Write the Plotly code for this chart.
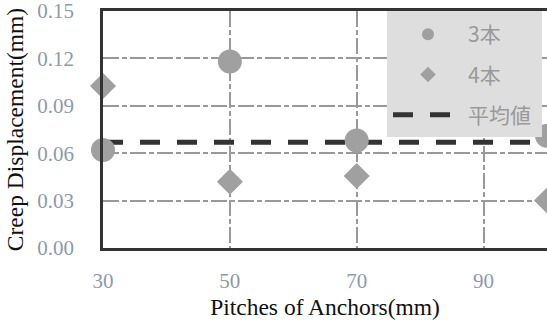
import plotly.graph_objects as go

pitch = [30, 50, 70, 100]
disp_3 = [0.062, 0.118, 0.068, 0.071]
disp_4 = [0.1025, 0.042, 0.0456, 0.030]
mean_x = [30, 100]
mean_val = [0.067, 0.067]
x_ticks = [30, 50, 70, 90]
y_ticks = [0.00, 0.03, 0.06, 0.09, 0.12, 0.15]

W, H = 547, 320
L, R, T, B = 103, 0, 11, 72

fig = go.Figure()
fig.add_trace(go.Scatter(x=mean_x, y=mean_val, mode="lines", name="平均値",
                         line=dict(color="#333333", width=5, dash="20px,17px"),
                         legendgroup="c", legendrank=3, cliponaxis=False))
fig.add_trace(go.Scatter(x=pitch, y=disp_3, mode="markers", name="3本",
                         marker=dict(symbol="circle", size=24, color="#a0a0a0"),
                         legendgroup="a", legendrank=1, cliponaxis=False))
fig.add_trace(go.Scatter(x=pitch, y=disp_4, mode="markers", name="4本",
                         marker=dict(symbol="diamond", size=20, color="#a0a0a0"),
                         legendgroup="b", legendrank=2, cliponaxis=False))

pw = W - L - R
ph = H - T - B
fig.add_shape(type="rect", xref="paper", yref="paper",
              x0=(387 - L) / pw, x1=(542 - L) / pw,
              y0=(H - B - 137) / ph, y1=1,
              fillcolor="#dedede", line=dict(width=0), layer="above")

tickfont = dict(family="Liberation Serif", size=21, color="#8d9aae")
titlefont = dict(family="Liberation Serif", size=23.5, color="#111111")

fig.update_layout(
    width=W, height=H,
    margin=dict(l=L, r=R, t=T, b=B, pad=0),
    plot_bgcolor="white", paper_bgcolor="white",
    showlegend=True,
    legend=dict(x=(388 - L) / pw, y=1 - 3 / ph, xanchor="left", yanchor="top",
                bgcolor="rgba(0,0,0,0)", borderwidth=0, itemwidth=70,
                font=dict(family="Noto Sans CJK JP", size=21, color="#999999"),
                tracegroupgap=10, itemsizing="constant"),
    xaxis=dict(range=[30, 100], tickvals=x_ticks, ticktext=[str(v) for v in x_ticks],
               showgrid=True, gridcolor="#999999", gridwidth=2, griddash="16px,3px,5px,3px",
               showline=True, linecolor="#333333", linewidth=2.5, mirror=True,
               zeroline=False, ticks="", ticklabelstandoff=12, tickfont=tickfont,
               ticklabeloverflow="allow",
               title=dict(text="Pitches of Anchors(mm)", font=titlefont, standoff=8)),
    yaxis=dict(range=[0, 0.15], tickvals=y_ticks, ticktext=[f"{v:.2f}" for v in y_ticks],
               showgrid=True, gridcolor="#999999", gridwidth=2, griddash="16px,3px,5px,3px",
               showline=True, linecolor="#333333", linewidth=2.5, mirror=False,
               zeroline=False, ticks="", ticklabelstandoff=22, tickfont=tickfont,
               ticklabeloverflow="allow",
               title=dict(text="Creep Displacement(mm)", font=titlefont, standoff=8)),
)

fig.write_html("out.html")
